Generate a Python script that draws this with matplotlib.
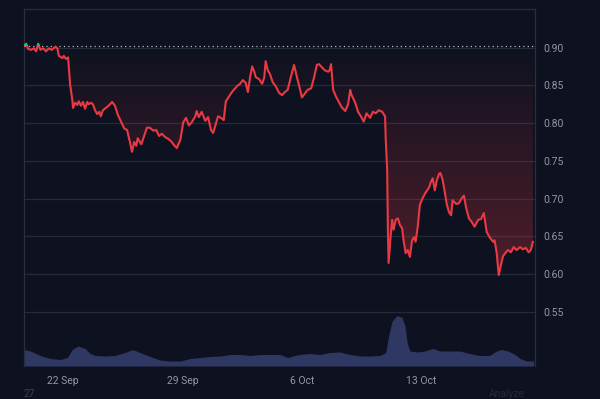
import matplotlib
matplotlib.use("Agg")
import matplotlib.pyplot as plt
import matplotlib.dates as mdates
from matplotlib.patches import Rectangle, PathPatch
from matplotlib.path import Path
from matplotlib.colors import LinearSegmentedColormap
import numpy as np
import pandas as pd

plt.rcParams["font.family"] = ["Roboto", "DejaVu Sans"]

# hours since 19 Sep 2024 00:00 and price
hours = [17, 20, 23, 27, 31, 34, 37, 40, 44, 48, 52, 56, 61, 64, 66, 71, 73, 76, 79, 82,
         85, 86, 89, 92, 94, 97, 100, 103, 106, 108, 111, 114, 117, 120, 123, 125, 128, 132,
         137, 141, 145, 149, 154, 158, 162, 166, 169, 172, 175, 177, 182, 186, 190, 194, 199,
         203, 207, 211, 215, 220, 224, 228, 232, 237, 241, 245, 249, 253, 258, 260, 263, 267,
         272, 276, 280, 283, 286, 290, 294, 298, 301, 304, 308, 312, 317, 321, 325, 329, 332,
         335, 338, 341, 343, 348, 352, 355, 357, 360, 363, 367, 371, 376, 380, 384, 388, 393,
         397, 401, 405, 408, 412, 416, 421, 425, 429, 432, 436, 440, 445, 447, 449, 452, 456,
         460, 464, 469, 473, 476, 478, 483, 487, 491, 495, 499, 504, 508, 512, 516, 521, 525,
         526, 528, 529, 530, 533, 535, 537, 540, 543, 546, 549, 551, 554, 557, 560, 563, 566,
         568, 571, 574, 578, 582, 587, 589, 592, 595, 598, 601, 603, 606, 609, 612, 615, 618,
         620, 625, 629, 633, 636, 639, 643, 647, 651, 656, 660, 664, 668, 672, 677, 679, 682,
         685, 688, 691, 695, 698, 702, 706, 710, 715, 719, 723, 727, 730, 733]
price = [0.902, 0.905, 0.898, 0.897, 0.899, 0.895, 0.905, 0.897, 0.899, 0.895, 0.899, 0.897,
         0.901, 0.899, 0.889, 0.886, 0.889, 0.885, 0.887, 0.850, 0.831, 0.820, 0.827, 0.824,
         0.829, 0.823, 0.828, 0.819, 0.828, 0.825, 0.827, 0.825, 0.817, 0.812, 0.815, 0.809,
         0.817, 0.820, 0.824, 0.828, 0.823, 0.811, 0.801, 0.793, 0.791, 0.775, 0.762, 0.775,
         0.770, 0.780, 0.772, 0.783, 0.794, 0.794, 0.790, 0.791, 0.783, 0.786, 0.782, 0.779,
         0.776, 0.771, 0.767, 0.778, 0.801, 0.807, 0.797, 0.801, 0.809, 0.816, 0.808, 0.815,
         0.803, 0.808, 0.791, 0.787, 0.796, 0.809, 0.807, 0.804, 0.829, 0.833, 0.839, 0.844,
         0.849, 0.852, 0.857, 0.853, 0.841, 0.860, 0.875, 0.868, 0.861, 0.858, 0.852, 0.860,
         0.882, 0.870, 0.865, 0.854, 0.849, 0.840, 0.837, 0.841, 0.844, 0.863, 0.877, 0.861,
         0.846, 0.834, 0.839, 0.844, 0.846, 0.860, 0.877, 0.878, 0.874, 0.870, 0.868, 0.870,
         0.878, 0.844, 0.835, 0.828, 0.821, 0.816, 0.825, 0.844, 0.837, 0.827, 0.815, 0.809,
         0.802, 0.813, 0.807, 0.815, 0.813, 0.817, 0.815, 0.809, 0.778, 0.738, 0.659, 0.615,
         0.652, 0.672, 0.659, 0.672, 0.674, 0.665, 0.661, 0.645, 0.628, 0.632, 0.623, 0.645,
         0.649, 0.643, 0.663, 0.692, 0.701, 0.708, 0.715, 0.721, 0.727, 0.711, 0.725, 0.733,
         0.734, 0.725, 0.709, 0.692, 0.682, 0.678, 0.698, 0.693, 0.694, 0.701, 0.704, 0.688,
         0.674, 0.669, 0.663, 0.672, 0.673, 0.681, 0.656, 0.649, 0.643, 0.645, 0.629, 0.599,
         0.612, 0.624, 0.629, 0.632, 0.629, 0.636, 0.632, 0.636, 0.633, 0.635, 0.629, 0.632,
         0.643]

# volume (millions)
vol_hours = [17, 26, 40, 54, 68, 78, 85, 93, 103, 110, 117, 131, 145, 159, 170, 180, 194,
             208, 222, 237, 251, 265, 279, 293, 307, 321, 335, 349, 363, 377, 388, 398, 405,
             419, 433, 447, 461, 476, 490, 504, 518, 526, 530, 535, 542, 549, 553, 556, 560,
             571, 581, 592, 602, 616, 630, 644, 658, 672, 682, 689, 698, 708, 715, 724, 734]
volume = [3.3, 3.0, 2.1, 1.5, 1.3, 1.7, 3.3, 4.0, 3.5, 2.5, 2.1, 2.0, 2.1, 2.7, 3.3, 2.7, 1.9,
          1.2, 1.0, 1.0, 1.5, 1.7, 1.9, 2.0, 2.3, 2.3, 2.1, 2.3, 2.3, 2.3, 1.7, 2.1, 2.3,
          2.5, 2.3, 2.7, 2.8, 2.3, 2.0, 2.0, 2.1, 2.7, 6.0, 9.0, 10.1, 9.7, 8.0, 4.7, 3.0,
          2.8, 3.0, 3.5, 3.0, 3.0, 3.0, 2.5, 2.1, 2.1, 3.0, 3.3, 3.0, 2.3, 1.5, 1.0, 1.0]

tick_dates = ["2024-09-22", "2024-09-29", "2024-10-06", "2024-10-13"]
tick_labels = ["22 Sep", "29 Sep", "6 Oct", "13 Oct"]
y_ticks = [0.55, 0.60, 0.65, 0.70, 0.75, 0.80, 0.85, 0.90]

bg = "#0e1220"
red = "#ea3943"
green = "#16c784"
grid_c = "#252a38"
text_c = "#9197a3"

start = pd.Timestamp("2024-09-19")
t = mdates.date2num(start + pd.to_timedelta(hours, unit="h"))
vt = mdates.date2num(start + pd.to_timedelta(vol_hours, unit="h"))
p = np.array(price)
base = price[0]
x0 = mdates.date2num(start + pd.Timedelta(hours=17))
x1 = mdates.date2num(start + pd.Timedelta(hours=736))
ylo, yhi = 0.4786, 0.951

fig = plt.figure(figsize=(6, 3.99), dpi=100, facecolor=bg)
ax = fig.add_axes([0.04, 0.0827, 0.8517, 0.8947])
ax.set_facecolor(bg)

# volume on twin axis
axv = ax.twinx()
axv.fill_between(vt, 0, volume, color="#2e3862", lw=0, zorder=1)
axv.set_ylim(0, 71.4)
axv.set_yticks([])
for s in axv.spines.values():
    s.set_visible(False)
ax.set_zorder(axv.get_zorder() + 1)
ax.patch.set_visible(False)
axv.set_facecolor(bg)

# gradient fill between price and baseline
low = np.minimum(p, base)
verts = np.concatenate([np.column_stack([t, low]),
                        np.column_stack([t[::-1], np.full(len(t), base)])])
clip = PathPatch(Path(verts), transform=ax.transData, facecolor="none", edgecolor="none")
ax.add_patch(clip)
cmap = LinearSegmentedColormap.from_list("g", [(0.92, 0.22, 0.26, 0.30), (0.92, 0.22, 0.26, 0.0)])
grad = np.linspace(0, 1, 256).reshape(-1, 1)
im = ax.imshow(grad, cmap=cmap, aspect="auto", origin="lower",
               extent=[x0, x1, 0.60, base], zorder=2)
im.set_clip_path(clip)

# price line, red below baseline, green above
l1, = ax.plot(t, p, color=red, lw=1.5, zorder=4)
l1.set_clip_path(Rectangle((x0, ylo), x1 - x0, base - ylo, transform=ax.transData))
l2, = ax.plot(t, p, color=green, lw=1.5, zorder=4)
l2.set_clip_path(Rectangle((x0, base), x1 - x0, yhi - base, transform=ax.transData))
ax.axhline(base, color="#b8bcc6", lw=0.9, ls=(0, (1, 2.5)), zorder=3)

ax.set_xlim(x0, x1)
ax.set_ylim(ylo, yhi)
ax.set_yticks(y_ticks)
ax.set_yticklabels([f"{v:.2f}" for v in y_ticks])
ax.yaxis.tick_right()
ax.set_xticks(mdates.date2num(pd.to_datetime(tick_dates)))
ax.set_xticklabels(tick_labels)
ax.tick_params(length=0, colors=text_c, labelsize=7.5, pad=7)
ax.tick_params(axis="y", pad=6)
ax.grid(axis="y", color=grid_c, lw=0.9)
ax.set_axisbelow(True)
for name, s in ax.spines.items():
    s.set_color("#2a2f3d")
    s.set_linewidth(0.9)
ax.spines["bottom"].set_visible(False)

fig.text(0.04, 0.005, "27", color="#3a3f4c", fontsize=7.5)
fig.text(0.815, 0.005, "Analyze", color="#252a36", fontsize=7.5)

fig.savefig("out.png", dpi=100, facecolor=bg)
